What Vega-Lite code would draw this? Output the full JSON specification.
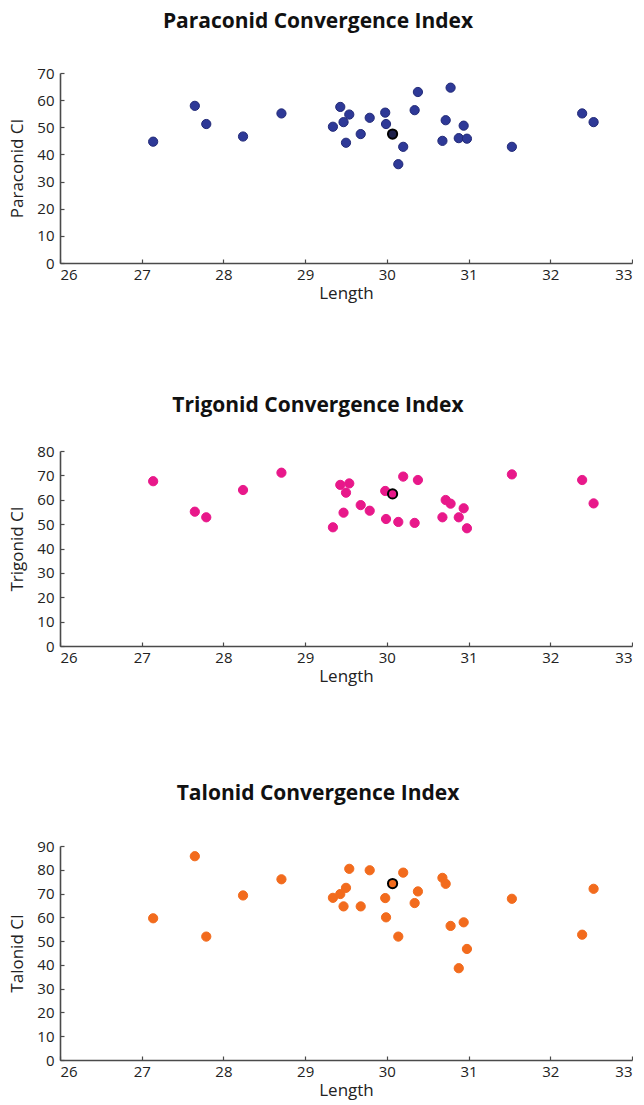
{
  "$schema": "https://vega.github.io/schema/vega-lite/v6.json",
  "background": "white",
  "padding": {"left": 8, "top": 11, "right": 0, "bottom": 8},
  "spacing": 99,
  "config": {
    "view": {"stroke": null},
    "font": "Open Sans",
    "title": {"fontSize": 21, "fontWeight": "bold", "font": "Open Sans", "color": "#111", "dx": -28},
    "axis": {
      "grid": false,
      "domainColor": "#4a4a4a",
      "domainWidth": 1.6,
      "tickColor": "#4a4a4a",
      "tickSize": -4,
      "tickWidth": 1.2,
      "labelFont": "Open Sans",
      "labelFontSize": 15,
      "labelColor": "#222",
      "titleFont": "Open Sans",
      "titleFontSize": 17,
      "titleFontWeight": "normal",
      "titleColor": "#222"
    },
    "axisX": {"labelPadding": 8, "titlePadding": 3},
    "axisY": {"labelPadding": 10, "titlePadding": 10}
  },
  "datasets": {
    "teeth": [
      {"Length": 27.14, "Paraconid": 44.7, "Trigonid": 67.6, "Talonid": 59.6, "ref": false},
      {"Length": 27.65, "Paraconid": 57.9, "Trigonid": 55.1, "Talonid": 85.7, "ref": false},
      {"Length": 27.79, "Paraconid": 51.2, "Trigonid": 52.8, "Talonid": 51.9, "ref": false},
      {"Length": 28.24, "Paraconid": 46.6, "Trigonid": 64.0, "Talonid": 69.2, "ref": false},
      {"Length": 28.71, "Paraconid": 55.1, "Trigonid": 71.1, "Talonid": 76.0, "ref": false},
      {"Length": 29.34, "Paraconid": 50.2, "Trigonid": 48.7, "Talonid": 68.2, "ref": false},
      {"Length": 29.43, "Paraconid": 57.5, "Trigonid": 66.1, "Talonid": 69.8, "ref": false},
      {"Length": 29.47, "Paraconid": 51.9, "Trigonid": 54.7, "Talonid": 64.6, "ref": false},
      {"Length": 29.50, "Paraconid": 44.3, "Trigonid": 62.9, "Talonid": 72.4, "ref": false},
      {"Length": 29.54, "Paraconid": 54.7, "Trigonid": 66.7, "Talonid": 80.4, "ref": false},
      {"Length": 29.68, "Paraconid": 47.5, "Trigonid": 57.8, "Talonid": 64.6, "ref": false},
      {"Length": 29.79, "Paraconid": 53.5, "Trigonid": 55.5, "Talonid": 79.8, "ref": false},
      {"Length": 29.98, "Paraconid": 55.4, "Trigonid": 63.6, "Talonid": 68.1, "ref": false},
      {"Length": 29.99, "Paraconid": 51.2, "Trigonid": 52.1, "Talonid": 60.0, "ref": false},
      {"Length": 30.14, "Paraconid": 36.4, "Trigonid": 50.9, "Talonid": 51.9, "ref": false},
      {"Length": 30.20, "Paraconid": 42.8, "Trigonid": 69.5, "Talonid": 78.8, "ref": false},
      {"Length": 30.34, "Paraconid": 56.3, "Trigonid": 50.5, "Talonid": 66.0, "ref": false},
      {"Length": 30.38, "Paraconid": 63.0, "Trigonid": 68.1, "Talonid": 70.9, "ref": false},
      {"Length": 30.68, "Paraconid": 45.0, "Trigonid": 52.8, "Talonid": 76.6, "ref": false},
      {"Length": 30.72, "Paraconid": 52.6, "Trigonid": 59.9, "Talonid": 74.1, "ref": false},
      {"Length": 30.78, "Paraconid": 64.6, "Trigonid": 58.4, "Talonid": 56.4, "ref": false},
      {"Length": 30.88, "Paraconid": 46.0, "Trigonid": 52.8, "Talonid": 38.6, "ref": false},
      {"Length": 30.94, "Paraconid": 50.6, "Trigonid": 56.5, "Talonid": 57.9, "ref": false},
      {"Length": 30.98, "Paraconid": 45.8, "Trigonid": 48.3, "Talonid": 46.7, "ref": false},
      {"Length": 31.53, "Paraconid": 42.8, "Trigonid": 70.4, "Talonid": 67.8, "ref": false},
      {"Length": 32.39, "Paraconid": 55.1, "Trigonid": 68.1, "Talonid": 52.7, "ref": false},
      {"Length": 32.53, "Paraconid": 51.9, "Trigonid": 58.5, "Talonid": 72.0, "ref": false},
      {"Length": 30.07, "Paraconid": 47.5, "Trigonid": 62.4, "Talonid": 74.2, "ref": true}
    ]
  },
  "vconcat": [
    {
      "spacing": 94,
      "vconcat": [
        {
          "title": {"text": "Paraconid Convergence Index", "offset": 34},
          "width": 572,
          "height": 190,
          "data": {"name": "teeth"},
          "mark": {"type": "point", "filled": true, "size": 85, "opacity": 1},
          "encoding": {
            "x": {"field": "Length", "type": "quantitative", "title": "Length",
                  "scale": {"domain": [26, 33], "nice": false, "zero": false},
                  "axis": {"values": [26, 27, 28, 29, 30, 31, 32, 33]}},
            "y": {"field": "Paraconid", "type": "quantitative", "title": "Paraconid CI",
                  "scale": {"domain": [0, 70], "nice": false},
                  "axis": {"values": [0, 10, 20, 30, 40, 50, 60, 70]}},
            "color": {"condition": {"test": "datum.ref", "value": "#1c1f4a"}, "value": "#2e3997"},
            "stroke": {"condition": {"test": "datum.ref", "value": "#000000"}, "value": "#222a78"},
            "strokeWidth": {"condition": {"test": "datum.ref", "value": 2}, "value": 1}
          }
        },
        {
          "title": {"text": "Trigonid Convergence Index", "offset": 28},
          "width": 572,
          "height": 195,
          "data": {"name": "teeth"},
          "mark": {"type": "point", "filled": true, "size": 85, "opacity": 1},
          "encoding": {
            "x": {"field": "Length", "type": "quantitative", "title": "Length",
                  "scale": {"domain": [26, 33], "nice": false, "zero": false},
                  "axis": {"values": [26, 27, 28, 29, 30, 31, 32, 33]}},
            "y": {"field": "Trigonid", "type": "quantitative", "title": "Trigonid CI",
                  "scale": {"domain": [0, 80], "nice": false},
                  "axis": {"values": [0, 10, 20, 30, 40, 50, 60, 70, 80]}},
            "color": {"value": "#e8188a"},
            "stroke": {"condition": {"test": "datum.ref", "value": "#000000"}, "value": "#e8188a"},
            "strokeWidth": {"condition": {"test": "datum.ref", "value": 2}, "value": 1}
          }
        }
      ]
    },
    {
      "title": {"text": "Talonid Convergence Index", "offset": 35},
      "width": 572,
      "height": 214,
      "data": {"name": "teeth"},
      "mark": {"type": "point", "filled": true, "size": 85, "opacity": 1},
      "encoding": {
        "x": {"field": "Length", "type": "quantitative", "title": "Length",
              "scale": {"domain": [26, 33], "nice": false, "zero": false},
              "axis": {"values": [26, 27, 28, 29, 30, 31, 32, 33]}},
        "y": {"field": "Talonid", "type": "quantitative", "title": "Talonid CI",
              "scale": {"domain": [0, 90], "nice": false},
              "axis": {"values": [0, 10, 20, 30, 40, 50, 60, 70, 80, 90]}},
        "color": {"value": "#f26b1d"},
        "stroke": {"condition": {"test": "datum.ref", "value": "#000000"}, "value": "#f26b1d"},
        "strokeWidth": {"condition": {"test": "datum.ref", "value": 2}, "value": 1}
      }
    }
  ]
}
